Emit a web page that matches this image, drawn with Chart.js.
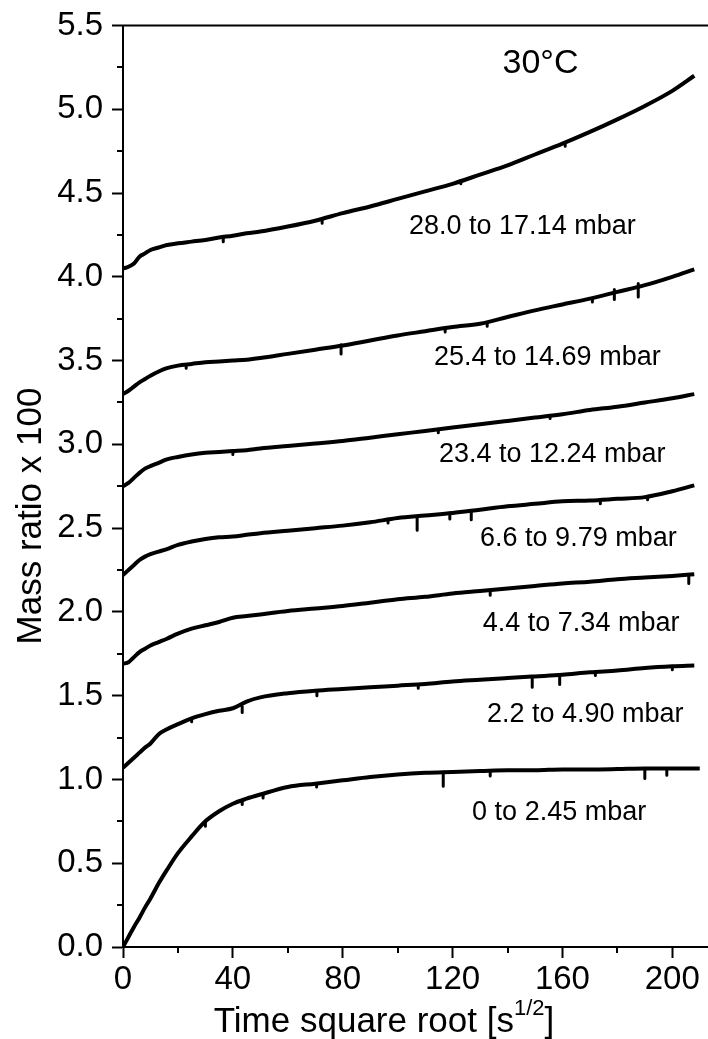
<!DOCTYPE html>
<html>
<head>
<meta charset="utf-8">
<script src="https://cdn.jsdelivr.net/npm/chart.js@4/dist/chart.umd.min.js"></script>
<style>
html,body{margin:0;padding:0;background:#fff;}
#wrap{width:708px;height:1039px;}
</style>
</head>
<body>
<div id="wrap"><canvas id="c" width="708" height="1039"></canvas></div>
<script>
// time square root values [s^1/2]
const time = [0,2,4,6,8,10,13,16,20,25,30,35,40,45,50,60,70,80,90,100,110,120,130,140,150,160,170,180,190,200,208,210];
// series labels (pressure steps)
const seriesLabels = ['28.0 to 17.14 mbar','25.4 to 14.69 mbar','23.4 to 12.24 mbar','6.6 to 9.79 mbar','4.4 to 7.34 mbar','2.2 to 4.90 mbar','0 to 2.45 mbar'];
// mass ratio x 100 for each step
const m28 = [4.05,4.06,4.08,4.12,4.14,4.16,4.175,4.19,4.20,4.21,4.22,4.235,4.245,4.26,4.27,4.30,4.335,4.38,4.42,4.465,4.51,4.555,4.61,4.665,4.73,4.795,4.865,4.94,5.02,5.11,5.20,null];
const m25 = [3.30,3.32,3.345,3.37,3.39,3.41,3.435,3.455,3.47,3.48,3.49,3.495,3.50,3.505,3.515,3.54,3.565,3.59,3.62,3.65,3.675,3.70,3.72,3.76,3.80,3.835,3.87,3.91,3.95,4.00,4.045,null];
const m23 = [2.75,2.77,2.80,2.83,2.855,2.87,2.89,2.91,2.925,2.94,2.95,2.955,2.96,2.965,2.975,2.99,3.005,3.02,3.04,3.06,3.08,3.10,3.12,3.14,3.16,3.18,3.205,3.225,3.25,3.275,3.30,null];
const m66 = [2.22,2.25,2.28,2.31,2.33,2.345,2.36,2.375,2.40,2.42,2.435,2.445,2.45,2.46,2.47,2.485,2.50,2.515,2.535,2.56,2.575,2.59,2.61,2.63,2.645,2.66,2.665,2.675,2.685,2.72,2.755,null];
const m44 = [1.69,1.70,1.73,1.76,1.78,1.80,1.82,1.84,1.87,1.90,1.92,1.94,1.965,1.975,1.985,2.005,2.02,2.035,2.055,2.075,2.09,2.11,2.125,2.14,2.155,2.17,2.18,2.195,2.205,2.215,2.225,null];
const m22 = [1.07,1.10,1.13,1.16,1.19,1.215,1.27,1.30,1.33,1.365,1.39,1.41,1.425,1.465,1.49,1.515,1.53,1.54,1.55,1.56,1.57,1.585,1.595,1.605,1.615,1.625,1.64,1.65,1.665,1.675,1.68,null];
const m00 = [0,0.06,0.12,0.175,0.235,0.29,0.38,0.46,0.56,0.66,0.75,0.81,0.855,0.885,0.91,0.955,0.975,0.995,1.015,1.03,1.04,1.045,1.05,1.055,1.055,1.06,1.06,1.062,1.065,1.065,1.066,1.066];
// downward glitches in the recordings: time, level on curve, lowest level
const spikeTime   = [36.5,72.5,123,161, 23,79.4,117.3,132.6,170.9,178.9,187.6, 40,114.8,155.5, 96.5,107.1,119,126.8,173.8,191, 133.7,206, 25,43.4,70.6,107.5,149,159,172,200, 30,43.4,51,70.5,116.6,133.7,190,198];
const spikeTop    = [4.235,4.34,4.575,4.80, 3.475,3.595,3.69,3.725,3.87,3.925,3.96, 2.96,3.085,3.17, 2.545,2.57,2.59,2.605,2.668,2.685, 2.125,2.222, 1.365,1.435,1.53,1.565,1.61,1.625,1.64,1.675, 0.75,0.875,0.91,0.975,1.043,1.052,1.065,1.065];
const spikeBottom = [4.21,4.32,4.555,4.78, 3.455,3.54,3.67,3.705,3.85,3.865,3.88, 2.94,3.07,3.155, 2.53,2.487,2.555,2.55,2.645,2.67, 2.10,2.17, 1.345,1.40,1.50,1.545,1.55,1.567,1.62,1.655, 0.72,0.85,0.89,0.955,0.96,1.02,1.005,1.025];
// label anchor points in data units [time, mass ratio]
const labelTime = [145.4,154.5,156.3,165.8,166.8,168.3,158.8];
const labelMass = [4.30,3.52,2.94,2.44,1.93,1.39,0.80];
const yTicks = [0,0.5,1.0,1.5,2.0,2.5,3.0,3.5,4.0,4.5,5.0,5.5];
const xTicks = [0,40,80,120,160,200];

const allSeries = [m28,m25,m23,m66,m44,m22,m00];
const FONT = "'Liberation Sans', Arial, Helvetica, sans-serif";

const datasets = allSeries.map((s,i)=>({
  label: seriesLabels[i],
  data: time.map((t,k)=>({x:t,y:s[k]})).filter(p=>p.y!==null),
  borderColor:'#000',
  borderWidth:4,
  pointRadius:0,
  cubicInterpolationMode:'monotone',
  fill:false
}));
const spikeData = [];
spikeTime.forEach((t,i)=>{
  spikeData.push({x:t,y:spikeTop[i]},{x:t,y:spikeBottom[i]},{x:t,y:null});
});
datasets.push({
  label:'glitches',
  data:spikeData,
  borderColor:'#000',
  borderWidth:3,
  pointRadius:0,
  spanGaps:false,
  borderCapStyle:'round',
  fill:false
});

const decor = {
  id:'decor',
  afterDraw(chart){
    const {ctx, chartArea:a, scales:{x,y}} = chart;
    ctx.save();
    ctx.strokeStyle='#000';
    ctx.lineWidth=2;
    ctx.beginPath();
    ctx.moveTo(a.left-1,a.top); ctx.lineTo(a.right,a.top);
    // minor ticks
    for(let v=20; v<x.max; v+=40){
      const px = Math.round(x.getPixelForValue(v));
      ctx.moveTo(px,a.bottom); ctx.lineTo(px,a.bottom+6);
    }
    for(let v=0.25; v<y.max; v+=0.5){
      const py = Math.round(y.getPixelForValue(v));
      ctx.moveTo(a.left,py); ctx.lineTo(a.left-6,py);
    }
    ctx.stroke();
    ctx.fillStyle='#000';
    ctx.textAlign='center';
    ctx.textBaseline='middle';
    ctx.font='27px '+FONT;
    seriesLabels.forEach((s,i)=>{
      ctx.fillText(s, x.getPixelForValue(labelTime[i]), y.getPixelForValue(labelMass[i]));
    });
    ctx.font='34px '+FONT;
    ctx.fillText('30°C', x.getPixelForValue(152), y.getPixelForValue(5.27));
    // x title with superscript
    const main='Time square root [s', sup='1/2', end=']';
    ctx.font='35px '+FONT; const w1=ctx.measureText(main).width, w3=ctx.measureText(end).width;
    ctx.font='22px '+FONT; const w2=ctx.measureText(sup).width;
    let sx = 384-(w1+w2+w3)/2;
    ctx.textAlign='left'; ctx.textBaseline='alphabetic';
    ctx.font='35px '+FONT; ctx.fillText(main,sx,1032);
    ctx.font='22px '+FONT; ctx.fillText(sup,sx+w1,1015);
    ctx.font='35px '+FONT; ctx.fillText(end,sx+w1+w2,1032);
    // y title
    ctx.save();
    ctx.translate(41,516);
    ctx.rotate(-Math.PI/2);
    ctx.textAlign='center';
    ctx.fillText('Mass ratio x 100',0,0);
    ctx.restore();
    ctx.restore();
  }
};

new Chart(document.getElementById('c'),{
  type:'line',
  data:{datasets},
  options:{
    responsive:false,
    animation:false,
    devicePixelRatio:1,
    layout:{padding:{top:25,left:0,right:0,bottom:0}},
    plugins:{legend:{display:false},tooltip:{enabled:false}},
    scales:{
      x:{
        type:'linear', min:0, max:213,
        afterBuildTicks(s){ s.ticks = xTicks.map(v=>({value:v})); },
        afterFit(s){ s.height = 92; },
        ticks:{includeBounds:false, color:'#000', font:{family:FONT,size:33}, padding:2, maxRotation:0, autoSkip:false},
        grid:{drawOnChartArea:false, drawTicks:true, tickLength:11, tickColor:'#000', tickWidth:2},
        border:{display:true,color:'#000',width:2}
      },
      y:{
        type:'linear', min:0, max:5.5,
        afterBuildTicks(s){ s.ticks = yTicks.map(v=>({value:v})); },
        afterFit(s){ s.width = 123; },
        ticks:{includeBounds:false, color:'#000', font:{family:FONT,size:33,lineHeight:1}, padding:9, autoSkip:false, callback:v=>Number(v).toFixed(1)},
        grid:{drawOnChartArea:false, drawTicks:true, tickLength:11, tickColor:'#000', tickWidth:2},
        border:{display:true,color:'#000',width:2}
      }
    }
  },
  plugins:[decor]
});
</script>
</body>
</html>
